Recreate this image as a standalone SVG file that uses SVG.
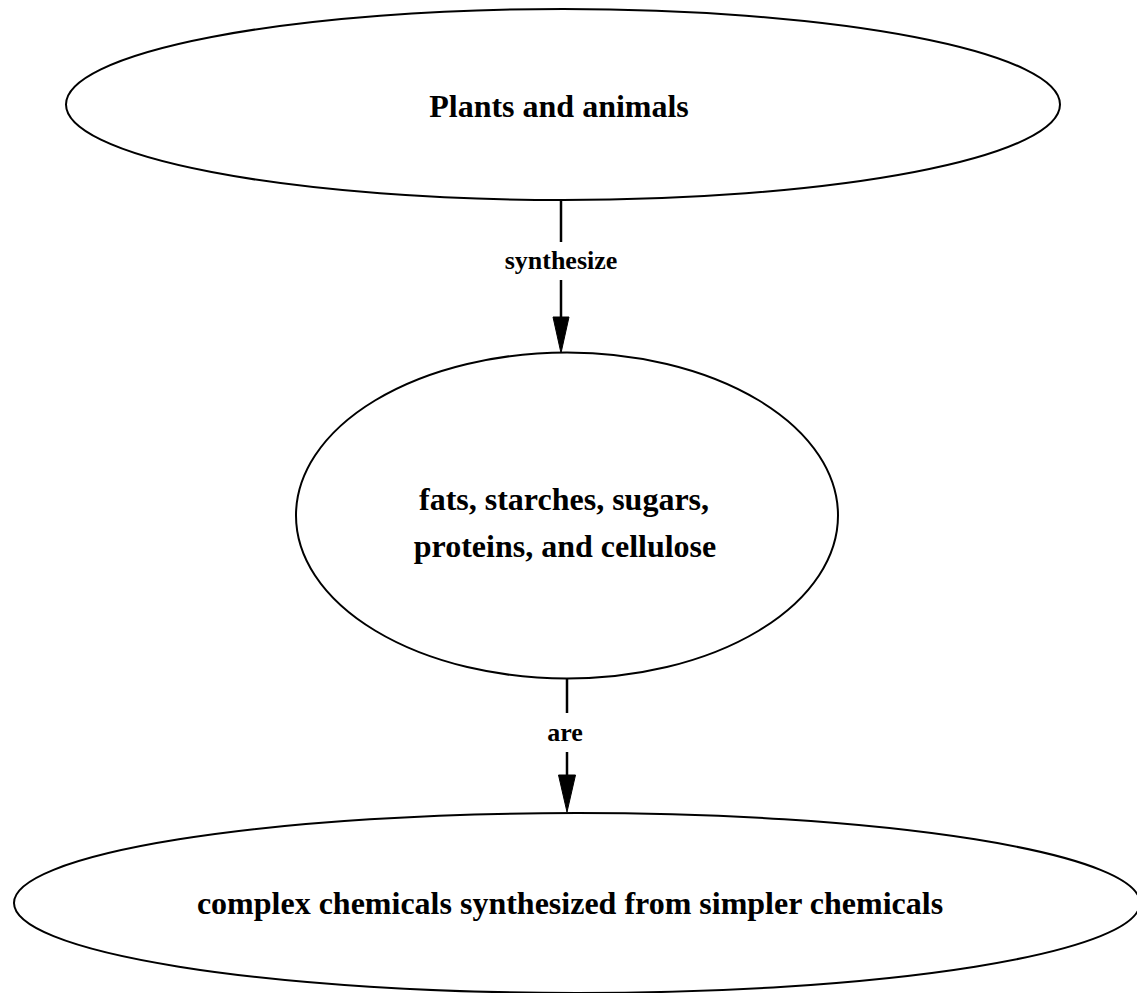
<svg xmlns="http://www.w3.org/2000/svg" width="1137" height="993" viewBox="0 0 1137 993">
  <style>
    .node ellipse { fill: #ffffff; stroke: #000000; stroke-width: 2; }
    .node text { font-family: "Liberation Serif", "Times New Roman", serif; font-weight: bold; font-size: 32px; fill: #000000; text-anchor: middle; }
    .edge line { stroke: #000000; stroke-width: 2.5; }
    .edge text { font-family: "Liberation Serif", "Times New Roman", serif; font-weight: bold; font-size: 26px; fill: #000000; text-anchor: middle; }
    .edge polygon { fill: #000000; stroke: #000000; stroke-width: 1; }
  </style>
  <rect width="1137" height="993" fill="#ffffff"/>

  <g id="node-plants" class="node">
    <ellipse cx="563" cy="104.5" rx="497" ry="95.5"/>
    <text x="559" y="117">Plants and animals</text>
  </g>

  <g id="node-compounds" class="node">
    <ellipse cx="567" cy="515.5" rx="271" ry="163"/>
    <text x="564" y="510">fats, starches, sugars,</text>
    <text x="565" y="557">proteins, and cellulose</text>
  </g>

  <g id="node-complex" class="node">
    <ellipse cx="577" cy="903" rx="563" ry="90"/>
    <text x="570" y="914">complex chemicals synthesized from simpler chemicals</text>
  </g>

  <g id="connectors">
    <g id="edge-synthesize" class="edge">
      <line x1="561" y1="200" x2="561" y2="242"/>
      <text x="561" y="269">synthesize</text>
      <line x1="561" y1="280" x2="561" y2="318"/>
      <polygon points="553,317 569,317 561,353"/>
    </g>
    <g id="edge-are" class="edge">
      <line x1="567" y1="678" x2="567" y2="713"/>
      <text x="565" y="741">are</text>
      <line x1="567" y1="752" x2="567" y2="776"/>
      <polygon points="558.5,775 575.5,775 567,812"/>
    </g>
  </g>
</svg>
